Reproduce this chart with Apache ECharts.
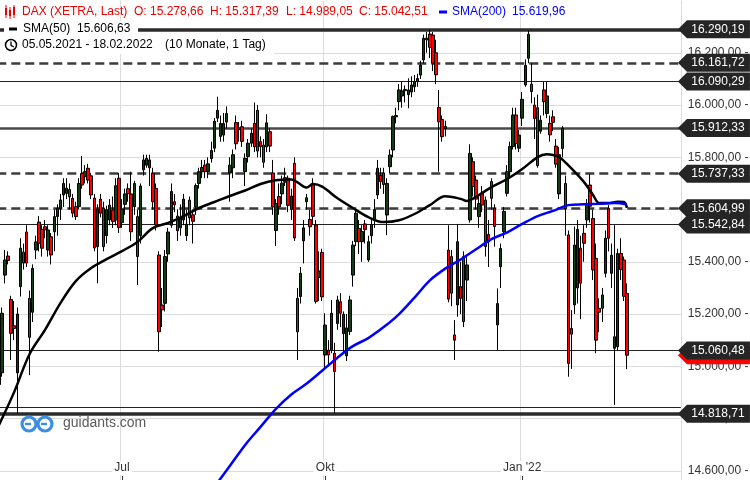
<!DOCTYPE html>
<html><head><meta charset="utf-8">
<script src="https://cdn.jsdelivr.net/npm/echarts@6/dist/echarts.min.js"></script>
<style>html,body{margin:0;padding:0;background:#fff}#c{width:750px;height:480px}</style>
</head><body><div id="c"></div>
<script>
// ---------- DATA ----------
const holidays = ['2021-05-24', '2021-12-24', '2021-12-31'];
const firstDay = '2021-05-05';
const lastDay = '2022-02-18';

const openArr = [
14930,14975,15349,15422,15256,15155,14975,15305,15437,15514,
15260,15207,15445,15552,15524,15534,15445,15496,15515,15573,
15605,15656,15662,15677,15643,15611,15611,15738,15726,15758,
15729,15644,15458,15640,15605,15500,15560,15598,15560,15720,
15550,15620,15680,15660,15611,15573,15500,15752,15770,15760,
15738,15681,15426,15235,15241,15430,15540,15630,15575,15530,
15560,15500,15636,15580,15610,15700,15745,15770,15745,15795,
15835,15950,15880,15885,15935,15740,15760,15933,15912,15917,
15745,15803,15854,15930,15980,15860,15847,15840,15898,15740,
15520,15650,15660,15705,15720,15600,15777,15260,15267,15480,
15630,15562,15700,15541,15340,15436,15043,15062,15062,15050,
15164,15247,15125,15040,15133,15349,15477,15528,15477,15545,
15407,15500,15560,15656,15732,15740,15579,15764,15828,15955,
16013,16035,16060,16040,16050,16070,16090,16115,16173,16250,
16272,16268,16200,15991,15945,15910,15445,15420,15120,15235,
15305,15420,15330,15560,15783,15713,15573,15662,15636,15505,
15707,15605,15158,15381,15515,15662,15745,15841,15962,15835,
15950,16077,16179,16080,16000,15990,15900,16058,15968,15930,
15955,15843,15660,15834,15700,15503,15145,15235,15300,15452,
15509,15560,15694,15566,15413,15222,15222,15356,15605,15356,
15069,15075,15432,15407,15278.66];
const highArr = [
15190,15225,15445,15440,15270,15250,15225,15490,15470,15540,
15290,15390,15500,15575,15540,15560,15540,15510,15600,15620,
15660,15720,15720,15700,15660,15630,15720,15805,15770,15775,
15740,15660,15620,15660,15630,15615,15640,15650,15720,15740,
15640,15680,15700,15745,15710,15600,15700,15810,15810,15810,
15760,15700,15440,15300,15445,15530,15700,15660,15600,15620,
15660,15600,15650,15600,15700,15760,15790,15790,15800,15860,
15950,16032,15960,15970,15995,15800,15830,15960,15935,15940,
15815,15870,15910,16010,16000,15880,15870,15965,15910,15790,
15640,15700,15730,15760,15730,15680,15800,15300,15380,15560,
15660,15600,15720,15560,15440,15450,15203,15100,15254,15090,
15270,15280,15210,15200,15270,15480,15600,15560,15540,15560,
15500,15560,15640,15790,15760,15760,15720,15830,15960,15990,
16080,16090,16075,16102,16110,16115,16120,16170,16270,16280,
16290.19,16280,16250,16058,15960,15940,15540,15445,15177,15545,
15400,15440,15420,15850,15800,15730,15650,15690,15650,15560,
15720,15620,15298,15470,15610,15770,15860,15990,15990,15905,
16050,16175,16285,16160,16030,16040,15960,16090,16090,15960,
15980,15870,15840,15920,15730,15520,15215,15535,15560,15500,
15540,15640,15735,15600,15470,15260,15300,15520,15617,15470,
15540,15450,15490,15420,15317.39];
const lowArr = [
14900,14960,15317,15390,15024,15100,14820,15267,15370,15380,
14966,15170,15410,15440,15420,15490,15420,15390,15440,15500,
15560,15610,15640,15600,15570,15560,15600,15680,15700,15700,
15640,15440,15318,15570,15440,15470,15540,15530,15540,15510,
15530,15580,15630,15480,15580,15311,15470,15730,15760,15690,
15600,15520,15056,15150,15210,15400,15530,15590,15480,15500,
15540,15480,15540,15470,15580,15680,15720,15720,15720,15780,
15820,15935,15860,15860,15910,15630,15720,15830,15860,15840,
15690,15780,15840,15820,15800,15800,15760,15820,15820,15580,
15460,15580,15620,15690,15590,15560,15480,15024,15240,15394,
15600,15500,15540,15240,15250,15250,14986,14999,15050,14819,
15140,15150,15050,15020,15120,15305,15460,15430,15400,15470,
15400,15470,15530,15640,15680,15660,15502,15740,15800,15930,
15980,15990,16010,15988,16030,16050,16070,16100,16160,16200,
16180,16130,16080,15745,15860,15880,15245,15230,15024,15190,
15200,15150,15250,15550,15650,15600,15530,15590,15420,15380,
15600,15458,15062,15300,15490,15650,15720,15830,15830,15820,
15920,16070,16160,16007,15870,15760,15890,15960,15950,15860,
15900,15760,15640,15800,15500,14960,14990,15200,15240,15180,
15400,15530,15550,15330,15050,15130,15170,15340,15440,15300,
14852,15060,15330,15250,14989.05];
const closeArr = [
15170,15203,15407,15405,15126,15145,15200,15452,15395,15395,
15111,15375,15476,15471,15452,15522,15522,15426,15573,15605,
15637,15700,15682,15649,15586,15573,15700,15694,15745,15713,
15656,15453,15601,15586,15458,15600,15617,15554,15691,15531,
15603,15660,15661,15515,15700,15420,15690,15790,15796,15790,
15630,15541,15132,15216,15420,15514,15669,15618,15519,15570,
15640,15544,15568,15555,15692,15745,15761,15745,15775,15826,
15938,15980,15930,15930,15968,15770,15810,15852,15906,15861,
15796,15854,15892,15840,15824,15841,15781,15932,15843,15610,
15623,15610,15701,15722,15616,15652,15491,15132,15356,15530,
15645,15534,15574,15248,15365,15266,15158,15043,15203,14980,
15254,15203,15199,15147,15254,15464,15586,15477,15516,15523,
15477,15543,15600,15758,15707,15696,15700,15809,15956,15960,
16058,16054,16055,16058,16077,16090,16102,16153,16256,16256,
16221,16160,16116,15936,15879,15918,15257,15280,15100,15477,
15260,15171,15388,15815,15688,15640,15623,15617,15458,15476,
15643,15535,15240,15451,15593,15745,15841,15962,15853,15885,
16022,16152,16271,16052,15948,15768,15942,16013,16035,15886,
15934,15774,15810,15911,15603,15011,15123,15464,15524,15318,
15471,15619,15613,15369,15100,15207,15273,15490,15490,15425,
15113,15432,15370,15268,15042.51];

// moving averages: [candle index, value]
const sma50 = [[0,14774],[5,14902],[10,15047],[15,15139],[20,15242],[25,15326],[30,15376],[35,15410],
[40,15441],[45,15476],[50,15529],[55,15549],[60,15575],[65,15606],[70,15629],[75,15652],[80,15673],
[85,15698],[90,15712],[95,15715],[97,15704],[100,15684],[102,15698],[105,15688],[110,15643],[115,15606],
[120,15571],[125,15552],[130,15559],[135,15583],[140,15617],[145,15651],[150,15641],[152,15633],[155,15649],
[160,15686],[165,15716],[170,15755],[175,15801],[178,15812],[180,15809],[182,15801],[185,15769],[190,15706],
[193,15656],[195,15625],[198,15625],[201,15630],[203,15629],[204,15606.63]];
const sma200 = [[70,14538],[75,14618],[80,14699],[85,14768],[90,14837],[95,14892],[100,14934],[105,14983],
[110,15033],[115,15077],[120,15108],[125,15150],[130,15200],[135,15263],[140,15329],[145,15374],[150,15409],
[155,15448],[160,15487],[165,15512],[170,15545],[175,15575],[180,15595],[185,15617],[190,15620],[195,15622],
[200,15625],[204,15619.96]];

const levelValues = [16290.19, 16161.72, 16090.29, 15912.33, 15737.33, 15604.99, 15542.84, 15060.48, 14818.71];
const extraLineValues = [14843];
const xTickIdx = [40, 106, 170];
const xTickLabels = ['Jul', 'Okt', "Jan '22"];
const yMin = 14400, yMax = 16400, yStep = 200;
const padSlots = 17;

// ---------- STYLES ----------
const levelKinds = ['thick','dash','thin','medium','dash','dash','thin','thin','thick'];
const kindStyle = {
  thick: {color:'#2b2b2b', width:3.5, type:'solid'},
  dash: {color:'#3c3c3c', width:2.5, type:[9,5]},
  thin: {color:'#222', width:1, type:'solid'},
  medium: {color:'#4a4a4a', width:2.5, type:'solid'}
};
const FF = '"Liberation Sans", Arial, sans-serif';

function de(v) {
  const p = v.toFixed(2).split('.');
  return p[0].replace(/\B(?=(\d{3})+(?!\d))/g, '.') + ',' + p[1];
}

const cats = [];
(function(){
  const d = new Date(firstDay + 'T00:00:00Z'), end = new Date(lastDay + 'T00:00:00Z');
  while (d <= end) {
    const s = d.toISOString().slice(0,10), wd = d.getUTCDay();
    if (wd !== 0 && wd !== 6 && holidays.indexOf(s) < 0) cats.push(s);
    d.setUTCDate(d.getUTCDate() + 1);
  }
})();
const axisCats = cats.concat(Array.from({length: padSlots}, (_, k) => 'pad' + k));
const lastIdx = axisCats.length - 1;
const candles = cats.map((_, i) => [openArr[i], closeArr[i], lowArr[i], highArr[i]]);
const n = cats.length - 1;

const isTick = i => xTickIdx.indexOf(i) >= 0;

const markLines = levelValues.map((v, k) => ({yAxis: v, lineStyle: kindStyle[levelKinds[k]]}))
  .concat(extraLineValues.map(v => ({yAxis: v, lineStyle: kindStyle.thin})));

const tagItems = [{coord:[lastIdx, closeArr[n]], value: closeArr[n], itemStyle:{color:'#ff0000'}, label:{show:false}}]
  .concat(levelValues.map(v => ({coord:[lastIdx, v], value: v})));

const red = '#ee0000', blue = '#0000ff';
const txt = (x, y, text, fill, size) => ({type:'text', x, y, z:100, silent:true,
  style:{text, fill, font: (size||12) + 'px ' + FF, verticalAlign:'middle'}});

const chart = echarts.init(document.getElementById('c'), null, {renderer:'canvas'});
chart.setOption({
  animation: false,
  backgroundColor: '#fff',
  textStyle: {fontFamily: FF},
  grid: {left: -2.7, right: 69.2, top: 0.6, bottom: -43, containLabel: false, outerBoundsMode: 'none'},
  xAxis: {
    type: 'category', data: axisCats, boundaryGap: true,
    axisLine: {show: false},
    axisTick: {show: true, inside: true, length: 47, alignWithLabel: true, interval: isTick, lineStyle: {color: '#333'}},
    axisLabel: {show: true, inside: true, margin: 48, interval: isTick, color: '#333', fontSize: 12,
      formatter: (v, i) => xTickLabels[xTickIdx.indexOf(i)] || '', backgroundColor: '#fff', padding: [1, 2]},
    splitLine: {show: true, interval: isTick, lineStyle: {color: '#dcdcdc', width: 1}}
  },
  yAxis: {
    type: 'value', position: 'right', min: yMin, max: yMax, interval: yStep,
    axisLine: {show: false}, axisTick: {show: false},
    axisLabel: {margin: 7, color: '#333', fontSize: 12, align: 'left',
      formatter: v => (v >= yMax || v <= yMin) ? '' : de(v) + ' -'},
    splitLine: {show: true, showMaxLine: false, lineStyle: {color: '#dcdcdc', width: 1}}
  },
  series: [
    {
      type: 'candlestick', name: 'DAX', data: candles, barWidth: 3, z: 2,
      itemStyle: {color: '#123f12', color0: '#ff0000', borderColor: '#000', borderColor0: '#000', borderWidth: 1},
      markLine: {silent: true, z: 1, symbol: ['none','none'], label: {show: false}, data: markLines, animation: false}
    },
    {
      type: 'line', name: 'SMA(50)', data: sma50, symbol: 'none', smooth: 0.35, z: 3,
      lineStyle: {color: '#000', width: 2.5}
    },
    {
      type: 'line', name: 'SMA(200)', data: sma200, symbol: 'none', smooth: 0.35, z: 3, clip: false,
      lineStyle: {color: blue, width: 2.5},
      markPoint: {
        z: 10, silent: true, animation: false,
        symbol: 'path://M0,9L9,0L72,0L72,18L9,18Z', symbolSize: [72, 18], symbolKeepAspect: false,
        symbolOffset: [34.7, 0],
        itemStyle: {color: '#252525'},
        label: {show: true, position: 'inside', offset: [4, 0], color: '#fff', fontSize: 12, fontFamily: FF,
          formatter: p => de(p.value)},
        data: tagItems
      }
    }
  ],
  graphic: [
    // header row 1
    {type:'rect', z:100, silent:true, shape:{x:5, y:8, width:2, height:7}, style:{fill:red}},
    {type:'line', z:100, silent:true, shape:{x1:6, y1:5, x2:6, y2:18}, style:{stroke:red, lineWidth:1}},
    {type:'rect', z:100, silent:true, shape:{x:9, y:10, width:2, height:6}, style:{fill:red}},
    {type:'line', z:100, silent:true, shape:{x1:10, y1:7, x2:10, y2:19}, style:{stroke:red, lineWidth:1}},
    {type:'rect', z:100, silent:true, shape:{x:13, y:7, width:2, height:8}, style:{fill:red}},
    {type:'line', z:100, silent:true, shape:{x1:14, y1:5, x2:14, y2:18}, style:{stroke:red, lineWidth:1}},
    txt(22, 12, 'DAX (XETRA, Last)', red),
    txt(134, 12, 'O: ' + de(openArr[n]), red),
    txt(210, 12, 'H: ' + de(highArr[n]), red),
    txt(286, 12, 'L: ' + de(lowArr[n]), red),
    txt(359, 12, 'C: ' + de(closeArr[n]), red),
    {type:'rect', z:100, silent:true, shape:{x:439, y:10.5, width:8, height:3}, style:{fill:blue}},
    txt(452, 12, 'SMA(200)', blue),
    txt(512, 12, de(sma200[sma200.length-1][1]), blue),
    // row 2
    {type:'rect', z:99, silent:true, shape:{x:4, y:21, width:134, height:16}, style:{fill:'#fff'}},
    {type:'rect', z:100, silent:true, shape:{x:9, y:27.5, width:8, height:3}, style:{fill:'#000'}},
    txt(23, 29, 'SMA(50)', '#000'),
    txt(77, 29, de(sma50[sma50.length-1][1]), '#000'),
    // row 3
    {type:'rect', z:99, silent:true, shape:{x:0, y:37, width:274, height:17}, style:{fill:'#fff'}},
    {type:'circle', z:100, silent:true, shape:{cx:11, cy:45, r:5.5}, style:{fill:'none', stroke:'#000', lineWidth:1.5}},
    {type:'polyline', z:100, silent:true, shape:{points:[[11,41.5],[11,45.3],[13.8,47]]}, style:{fill:null, stroke:'#000', lineWidth:1.3}},
    txt(22, 45, '05.05.2021 - 18.02.2022', '#000'),
    txt(165, 45, '(10 Monate, 1 Tag)', '#000'),
    // logo
    {type:'circle', z:100, silent:true, shape:{cx:29, cy:424, r:7}, style:{fill:'none', stroke:'#3b8de6', lineWidth:3.2}},
    {type:'circle', z:100, silent:true, shape:{cx:45, cy:424, r:7}, style:{fill:'none', stroke:'#3b8de6', lineWidth:3.2}},
    {type:'rect', z:100, silent:true, shape:{x:25, y:422.8, width:6, height:2.4}, style:{fill:'#3b8de6'}},
    {type:'rect', z:100, silent:true, shape:{x:41, y:422.8, width:6, height:2.4}, style:{fill:'#3b8de6'}},
    txt(63, 423, 'guidants.com', '#5a5a5a', 14)
  ]
});
</script>
</body></html>
